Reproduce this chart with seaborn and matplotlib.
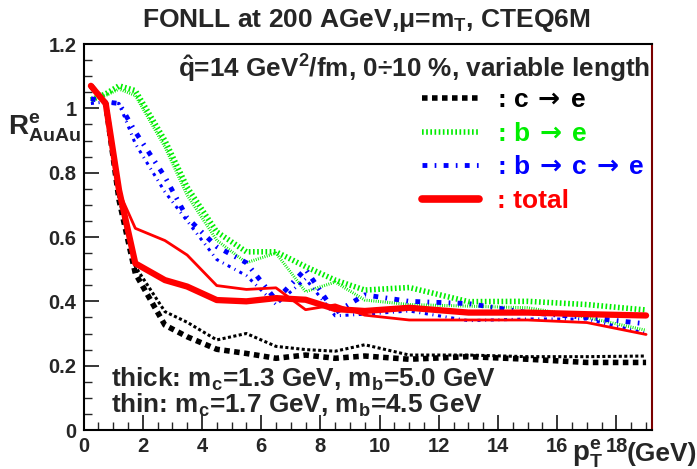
import matplotlib
matplotlib.use("Agg")
import matplotlib.pyplot as plt
import seaborn as sns
import numpy as np
from matplotlib.lines import Line2D

# ---------------- data ----------------
pt = [0.25, 0.75, 1.2, 1.75, 2.75, 3.5, 4.5, 5.5, 6.5, 7.5, 8.5, 9.5, 11, 13, 15, 17, 19]

c_thick   = [1.07, 1.015, 0.715, 0.487, 0.326, 0.29, 0.251, 0.238, 0.223, 0.233, 0.223, 0.23, 0.22, 0.228, 0.22, 0.21, 0.21]
c_thin    = [1.07, 1.015, 0.72, 0.508, 0.368, 0.335, 0.28, 0.30, 0.26, 0.25, 0.245, 0.265, 0.233, 0.233, 0.228, 0.228, 0.23]
b_thick   = [1.026, 1.045, 1.07, 1.055, 0.90, 0.755, 0.616, 0.554, 0.554, 0.508, 0.466, 0.435, 0.443, 0.399, 0.40, 0.39, 0.373]
b_thin    = [1.026, 1.04, 1.06, 1.04, 0.88, 0.73, 0.59, 0.52, 0.55, 0.43, 0.46, 0.404, 0.39, 0.385, 0.38, 0.35, 0.31]
bc_thick  = [1.03, 1.02, 1.015, 0.927, 0.787, 0.66, 0.57, 0.52, 0.404, 0.50, 0.365, 0.42, 0.40, 0.393, 0.365, 0.35, 0.33]
bc_thin   = [1.015, 1.02, 1.015, 0.89, 0.74, 0.65, 0.53, 0.48, 0.39, 0.47, 0.355, 0.36, 0.37, 0.34, 0.345, 0.345, 0.30]
tot_thick = [1.07, 1.015, 0.746, 0.518, 0.466, 0.446, 0.404, 0.40, 0.41, 0.405, 0.376, 0.37, 0.38, 0.365, 0.365, 0.36, 0.356]
tot_thin  = [1.07, 1.015, 0.74, 0.627, 0.589, 0.544, 0.449, 0.437, 0.442, 0.374, 0.389, 0.357, 0.342, 0.342, 0.342, 0.334, 0.297]

legend_labels = [r": c$\,\rightarrow\,$e", r": b$\,\rightarrow\,$e",
                 r": b$\,\rightarrow\,$c$\,\rightarrow\,$e", ": total"]
legend_colors = ["black", "#00ee00", "#0000ff", "#ff0000"]

xticks = [0, 2, 4, 6, 8, 10, 12, 14, 16, 18]
yticks = [0, 0.2, 0.4, 0.6, 0.8, 1.0, 1.2]
yticklabels = ["0", "0.2", "0.4", "0.6", "0.8", "1", "1.2"]

# ---------------- style ----------------
sns.set_style("ticks")
plt.rcParams['font.family'] = ['Liberation Sans', 'DejaVu Sans']
plt.rcParams['font.weight'] = 'bold'
plt.rcParams['mathtext.fontset'] = 'custom'
plt.rcParams['mathtext.rm'] = 'Liberation Sans:bold'
plt.rcParams['mathtext.bf'] = 'Liberation Sans:bold'
plt.rcParams['mathtext.it'] = 'Liberation Sans:bold'
plt.rcParams['mathtext.sf'] = 'Liberation Sans:bold'
plt.rcParams['mathtext.default'] = 'rm'

fig = plt.figure(figsize=(6.97, 4.69), dpi=100)
ax = fig.add_axes([83.5 / 697, 1 - 430 / 469, (652 - 83.5) / 697, (430 - 44) / 469])

DOT = (0, (1.0, 0.8))
FINE = (0, (0.3, 0.45))
DASHDOT = (0, (1.0, 1.5, 0.35, 1.5))

series = [
    (c_thick, "black", 4.0, DOT), (c_thin, "black", 2.2, DOT),
    (b_thick, "#00ee00", 4.0, FINE), (b_thin, "#00ee00", 2.2, FINE),
    (bc_thick, "#0000ff", 3.5, DASHDOT), (bc_thin, "#0000ff", 2.2, DASHDOT),
    (tot_thin, "#ff0000", 2.0, "-"), (tot_thick, "#ff0000", 4.5, "-"),
]
for vals, col, lw, ls in series:
    sns.lineplot(x=pt, y=vals, ax=ax, color=col, linewidth=lw, linestyle=ls, sort=False)

ax.set_xlim(0, 19.2)
ax.set_ylim(0, 1.2)
ax.set_xticks(xticks)
ax.set_xticks(np.arange(0, 19.2, 0.5), minor=True)
ax.set_yticks(yticks)
ax.set_yticklabels(yticklabels)
ax.set_yticks(np.arange(0, 1.2001, 0.05), minor=True)
ax.tick_params(which='major', direction='in', length=11, width=1.3, labelsize=14.5, pad=5)
ax.tick_params(which='minor', direction='in', length=6, width=1.0)
for lab in ax.get_xticklabels() + ax.get_yticklabels():
    lab.set_fontweight('bold')
ax.set_xlabel("")
ax.set_ylabel("")
for s in ['left', 'bottom', 'top']:
    ax.spines[s].set_color('black')
    ax.spines[s].set_linewidth(1.5)
ax.spines['right'].set_color('#7a0000')
ax.spines['right'].set_linewidth(1.5)

# legend
handles = [
    Line2D([], [], color="black", lw=4, linestyle=DOT),
    Line2D([], [], color="#00ee00", lw=4, linestyle=FINE),
    Line2D([], [], color="#0000ff", lw=3.5, linestyle=DASHDOT),
    Line2D([], [], color="#ff0000", lw=5.5, linestyle="-"),
]
leg = ax.legend(handles, legend_labels, loc='upper left', bbox_to_anchor=(0.595, 0.885),
                frameon=False, fontsize=19, handlelength=2.16, handletextpad=0.68,
                labelspacing=0.36, borderaxespad=0, borderpad=0)
for t, c in zip(leg.get_texts(), legend_colors):
    t.set_color(c)
    t.set_fontweight('bold')
    t.set_math_fontfamily('dejavusans')

# texts
fig.text(0.525, 1 - 21 / 469, r"FONLL at 200 AGeV,$\mu$=m$_{\mathrm{T}}$, CTEQ6M", ha='center', va='center',
         fontsize=19, fontweight='bold')
ax.text(0.997, 0.935, r"$\hat{\mathrm{q}}$=14 GeV$^{2}$/fm, 0$\div$10 %, variable length", transform=ax.transAxes,
        ha='right', va='center', fontsize=18.8, fontweight='bold')
ax.text(0.048, 0.13, r"thick: m$_{\mathrm{c}}$=1.3 GeV, m$_{\mathrm{b}}$=5.0 GeV", transform=ax.transAxes,
        ha='left', va='center', fontsize=18.8, fontweight='bold')
ax.text(0.048, 0.065, r"thin: m$_{\mathrm{c}}$=1.7 GeV, m$_{\mathrm{b}}$=4.5 GeV", transform=ax.transAxes,
        ha='left', va='center', fontsize=18.8, fontweight='bold')
fig.text(8 / 697, 1 - 128 / 469, r"R$^{\mathrm{e}}_{\mathrm{AuAu}}$", ha='left', va='center',
         fontsize=20, fontweight='bold')
fig.text(572 / 697, 1 - 454 / 469, r"p$^{\mathrm{e}}_{\mathrm{T}}$", ha='left', va='center',
         fontsize=20, fontweight='bold')
fig.text(697 / 697, 1 - 454 / 469, "(GeV)", ha='right', va='center', fontsize=19, fontweight='bold')

fig.savefig("out.png", dpi=100)
